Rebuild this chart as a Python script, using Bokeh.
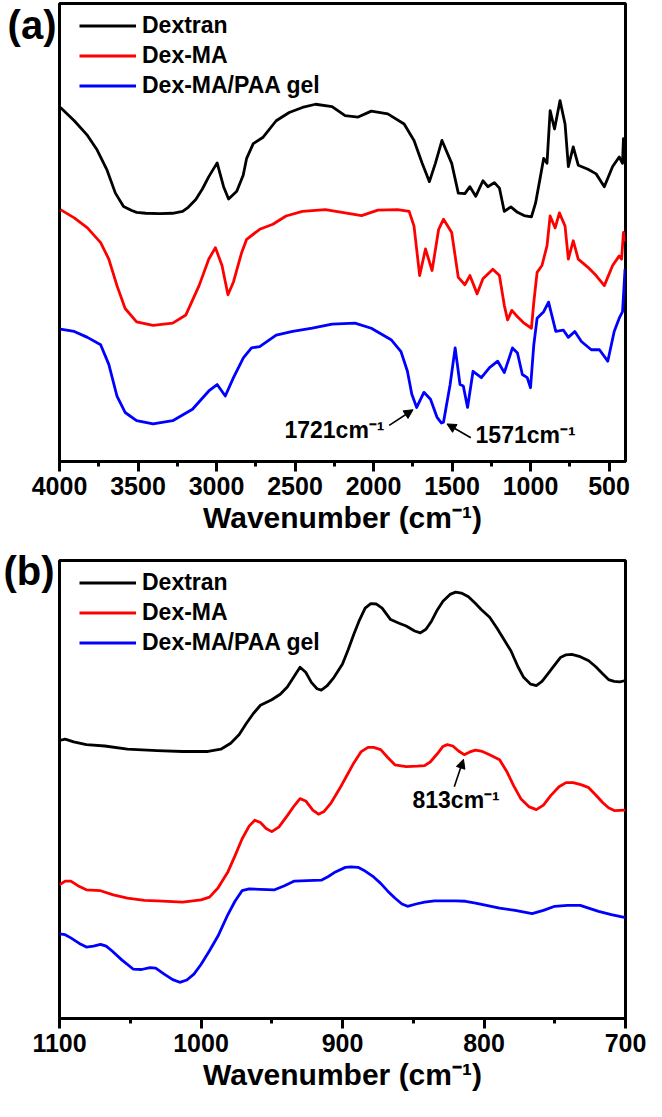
from bokeh.plotting import figure
from bokeh.layouts import column
from bokeh.models import Range1d, FixedTicker, Label, Arrow, NormalHead
from bokeh.embed import file_html
from bokeh.resources import INLINE

# ---------------- data: panel (a) ----------------
series_names = ["Dextran", "Dex-MA", "Dex-MA/PAA gel"]
series_colors = ["#000000", "#FF0000", "#0000FF"]

a_dextran_wn = [3994, 3906, 3822, 3760, 3697, 3644, 3592, 3540, 3509, 3450, 3362, 3280, 3216, 3180, 3132,
                3090, 3049, 2996, 2955, 2923, 2871, 2830, 2808, 2766, 2703, 2620, 2537, 2453, 2369, 2264,
                2181, 2098, 2014, 1909, 1805, 1742, 1690, 1644, 1606, 1564, 1502, 1460, 1418, 1386, 1349,
                1303, 1272, 1230, 1198, 1167, 1125, 1083, 1041, 994, 968, 937, 916, 895, 875, 847, 812,
                780, 759, 728, 696, 634, 582, 530, 477, 435, 414, 408, 400]
a_dextran_t = [77.3, 74.4, 71.2, 68.0, 63.6, 58.6, 55.7, 54.8, 54.4, 54.2, 54.1, 54.2, 54.6, 55.5, 57.2,
               59.5, 62.2, 65.2, 60.0, 57.3, 59.0, 62.5, 66.2, 69.4, 70.8, 74.4, 76.2, 77.3, 78.0, 77.5,
               75.5, 75.2, 76.5, 75.9, 73.7, 70.1, 65.1, 61.1, 65.1, 70.1, 65.1, 58.6, 58.5, 60.0, 57.9,
               61.3, 60.0, 60.9, 59.7, 54.6, 55.6, 54.4, 53.7, 53.4, 56.4, 62.2, 66.2, 65.1, 76.6, 72.6, 78.8,
               73.7, 64.4, 68.7, 64.7, 63.8, 62.8, 60.0, 64.4, 66.5, 65.1, 70.5, 66.0]

a_dexma_wn = [3994, 3906, 3822, 3738, 3686, 3634, 3582, 3509, 3404, 3279, 3195, 3111, 3049, 3007,
              2965, 2927, 2892, 2840, 2808, 2725, 2641, 2557, 2453, 2307, 2181, 2076, 1972, 1847,
              1773, 1742, 1706, 1669, 1627, 1585, 1554, 1502, 1460, 1418, 1386, 1340, 1303, 1240,
              1198, 1167, 1146, 1119, 1083, 1041, 994, 979, 958, 927, 895, 875, 843, 816, 780, 759,
              728, 696, 634, 582, 530, 477, 435, 420, 408, 400]
a_dexma_t = [55.0, 53.2, 51.0, 47.8, 44.2, 38.4, 33.4, 30.5, 29.7, 30.2, 32.0, 38.4, 44.2, 46.7,
             42.8, 36.4, 39.2, 45.6, 48.5, 50.7, 51.8, 53.6, 54.6, 55.0, 54.3, 53.7, 54.9, 55.0,
             54.6, 51.4, 40.6, 46.4, 41.7, 50.7, 52.9, 50.0, 40.2, 38.6, 40.6, 36.6, 39.9, 42.0,
             40.6, 34.1, 30.9, 33.0, 31.6, 30.2, 29.1, 34.8, 41.3, 42.8, 47.1, 53.6, 51.0, 54.3, 51.4, 44.2,
             48.2, 44.2, 42.4, 40.6, 38.4, 42.8, 44.9, 44.2, 50.0, 48.0]

a_gel_wn = [3994, 3906, 3822, 3738, 3686, 3634, 3582, 3509, 3404, 3279, 3153, 3049, 2996, 2944,
            2892, 2829, 2777, 2725, 2620, 2515, 2390, 2264, 2118, 2014, 1888, 1825, 1784, 1756,
            1725, 1679, 1637, 1596, 1568, 1554, 1512, 1480, 1449, 1428, 1401, 1366, 1313, 1261,
            1209, 1167, 1115, 1083, 1052, 1021, 1000, 979, 958, 916, 885, 839, 791, 759, 718, 676,
            613, 561, 508, 467, 435, 414, 404, 398]
a_gel_t = [28.9, 28.4, 27.1, 25.5, 21.2, 14.3, 10.7, 8.9, 8.2, 8.9, 11.4, 15.4, 16.8, 14.3,
           18.3, 22.6, 24.8, 25.1, 27.6, 28.4, 29.1, 30.0, 30.2, 29.1, 26.6, 24.0, 19.7, 14.7,
           11.8, 15.1, 13.6, 9.7, 8.4, 8.6, 16.8, 24.8, 16.8, 16.5, 11.8, 19.7, 18.3, 20.5,
           21.9, 19.4, 24.8, 23.7, 19.0, 18.3, 16.1, 25.5, 31.3, 32.7, 34.8, 28.4, 28.7, 27.1, 28.4, 26.2,
           24.4, 24.4, 21.9, 28.4, 31.3, 32.7, 38.4, 42.0]

a_ticks = [4000, 3500, 3000, 2500, 2000, 1500, 1000, 500]
a_minor = [3750, 3250, 2750, 2250, 1750, 1250, 750]

# ---------------- data: panel (b) ----------------
b_dextran_wn = [1100, 1096, 1090, 1081, 1068, 1052, 1031, 1013, 995, 986, 979, 973, 968, 963, 958, 950,
                944, 939, 934, 930, 926, 922, 918, 915, 911, 906, 900, 896, 892, 888, 884, 880, 876,
                872, 866, 860, 855, 849, 845, 841, 837, 833, 829, 824, 820, 816, 811, 806, 802, 796,
                791, 786, 781, 776, 772, 767, 763, 759, 755, 750, 746, 742, 738, 732, 726, 721, 716,
                712, 708, 704, 700]
b_dextran_t = [60.7, 61.0, 60.4, 59.8, 59.5, 58.8, 58.5, 58.3, 58.3, 58.8, 60.1, 62.0, 64.4, 66.6, 68.4, 69.6,
               70.8, 72.4, 74.8, 76.7, 75.6, 73.4, 72.0, 71.7, 72.6, 74.5, 77.4, 80.5, 83.9, 87.0, 89.6, 90.6, 90.5,
               89.6, 87.1, 86.3, 85.7, 84.6, 84.2, 85.0, 86.8, 89.2, 91.1, 92.6, 93.1, 92.9, 92.1, 90.6, 89.3, 87.6,
               85.3, 82.8, 80.3, 76.8, 74.5, 73.0, 72.7, 73.6, 75.2, 77.2, 78.8, 79.4, 79.5, 79.0, 78.1, 76.8, 75.2,
               74.0, 73.6, 73.5, 73.8]

b_dexma_wn = [1100, 1096, 1092, 1087, 1081, 1071, 1062, 1052, 1040, 1031, 1013, 1000, 994, 988, 984, 981,
              976, 971, 966, 962, 958, 954, 950, 945, 939, 934, 930, 926, 921, 917, 913, 908, 902, 897,
              892, 887, 882, 878, 873, 868, 863, 855, 847, 842, 838, 833, 829, 826, 822, 818, 814, 810,
              806, 802, 796, 789, 784, 779, 774, 768, 763, 758, 753, 747, 742, 737, 731, 726, 721, 716,
              712, 708, 700]
b_dexma_t = [29.2, 30.0, 30.0, 29.0, 28.1, 27.9, 27.0, 26.3, 25.8, 25.7, 25.4, 25.9, 26.5, 28.5, 30.5, 32.0,
             35.5, 39.2, 42.0, 43.3, 42.8, 41.5, 40.8, 41.8, 44.3, 46.5, 48.0, 47.5, 45.5, 44.6, 45.2, 47.1, 50.2,
             53.0, 55.8, 58.2, 59.2, 59.2, 58.7, 57.0, 55.4, 55.0, 55.1, 55.2, 56.0, 57.8, 59.4, 59.8, 59.5, 58.4,
             57.6, 58.2, 58.6, 58.4, 57.6, 56.5, 54.0, 50.8, 48.0, 46.2, 45.6, 46.6, 48.6, 50.6, 51.5, 51.5, 51.0,
             50.4, 48.8, 47.1, 46.0, 45.4, 45.5]

b_gel_wn = [1100, 1096, 1092, 1086, 1081, 1076, 1071, 1067, 1063, 1056, 1048, 1042, 1036, 1032, 1026, 1020,
            1015, 1010, 1005, 1000, 994, 988, 981, 976, 971, 966, 958, 948, 941, 934, 925, 915, 910, 905,
            898, 894, 889, 884, 878, 873, 868, 863, 858, 854, 848, 842, 835, 829, 820, 813, 806, 800, 789,
            778, 766, 758, 750, 741, 732, 725, 719, 710, 700]
b_gel_t = [18.5, 18.3, 17.6, 16.4, 15.6, 15.8, 16.2, 15.8, 14.8, 12.8, 10.8, 10.7, 11.1, 11.0, 9.7, 8.5,
           7.9, 8.4, 9.7, 11.8, 14.8, 18.0, 22.7, 25.6, 27.9, 28.3, 28.2, 28.1, 29.0, 30.0, 30.1, 30.2, 31.0, 32.0,
           33.0, 33.1, 33.0, 32.2, 30.9, 29.5, 27.8, 26.3, 25.0, 24.5, 25.0, 25.4, 25.7, 25.7, 25.7, 25.6, 25.2,
           24.8, 24.1, 23.6, 22.9, 23.6, 24.5, 24.7, 24.7, 24.0, 23.4, 22.7, 22.0]

b_ticks = [1100, 1000, 900, 800, 700]
b_minor = [1050, 950, 850, 750]

# annotations: (text, text x, text y, align, arrow start x, y, arrow end x, y)
a_notes = [("1721cm\u207b\u00b9", 1930, 6.9, "right", 1900, 7.9, 1748, 11.3),
           ("1571cm\u207b\u00b9", 1350, 5.8, "left", 1380, 5.2, 1532, 8.2)]
b_notes = [("813cm\u207b\u00b9", 819.7, 47.6, "center", 821, 50.6, 814.5, 56.6)]

# panel tags, shown beside the top of each frame
a_tag = ("(a)", 96.3)
b_tag = ("(b)", 97.6)

FONT = "Liberation Sans"


def make_panel(x_range, ticks, minor, height, border_left, border_top, border_bottom, series, notes, tag,
               tag_standoff):
    p = figure(width=646, height=height, x_range=Range1d(*x_range), y_range=Range1d(0, 100),
               output_backend="svg", toolbar_location=None,
               min_border_left=border_left, min_border_right=21,
               min_border_top=border_top, min_border_bottom=border_bottom)
    p.grid.visible = False
    p.outline_line_color = "black"
    p.outline_line_width = 3
    p.outline_line_alpha = 1
    p.background_fill_color = "white"
    p.border_fill_color = "white"

    # the left axis carries no ticks: it only holds the panel tag beside the frame
    ya = p.yaxis[0]
    ya.ticker = FixedTicker(ticks=[tag[1]], minor_ticks=[])
    ya.major_label_overrides = {tag[1]: tag[0]}
    ya.axis_line_color = None
    ya.major_tick_line_color = None
    ya.minor_tick_line_color = None
    ya.major_tick_out = 0
    ya.major_tick_in = 0
    ya.minor_tick_out = 0
    ya.major_label_standoff = tag_standoff
    ya.major_label_text_font = FONT
    ya.major_label_text_font_style = "bold"
    ya.major_label_text_font_size = "40px"
    ya.major_label_text_color = "black"

    xa = p.xaxis[0]
    xa.ticker = FixedTicker(ticks=ticks, minor_ticks=minor)
    xa.axis_line_width = 3
    xa.axis_line_color = "black"
    xa.major_tick_line_width = 3
    xa.major_tick_out = 10
    xa.major_tick_in = 0
    xa.minor_tick_line_width = 3
    xa.minor_tick_out = 5
    xa.minor_tick_in = 0
    xa.major_label_text_font = FONT
    xa.major_label_text_font_style = "bold"
    xa.major_label_text_font_size = "25px"
    xa.major_label_text_color = "black"
    xa.major_label_standoff = 5
    xa.axis_label = "Wavenumber (cm\u207b\u00b9)"
    xa.axis_label_text_font = FONT
    xa.axis_label_text_font_style = "bold"
    xa.axis_label_text_font_size = "30px"
    xa.axis_label_text_color = "black"
    xa.axis_label_standoff = 3

    for (wn, t), name, color in zip(series, series_names, series_colors):
        p.line(wn, t, line_color=color, line_width=2.8, legend_label=name, line_join="round")

    lg = p.legend[0]
    lg.location = (20, 361)
    lg.margin = 0
    lg.padding = 0
    lg.spacing = 1
    lg.glyph_width = 57
    lg.glyph_height = 29
    lg.label_height = 29
    lg.label_standoff = 6
    lg.label_text_font = FONT
    lg.label_text_font_style = "bold"
    lg.label_text_font_size = "23px"
    lg.label_text_color = "black"
    lg.background_fill_alpha = 0
    lg.border_line_alpha = 0

    for text, tx, ty, align, x0, y0, x1, y1 in notes:
        p.add_layout(Label(x=tx, y=ty, text=text, text_align=align, text_baseline="middle",
                           text_font=FONT, text_font_style="bold", text_font_size="23px",
                           text_color="black"))
        p.add_layout(Arrow(end=NormalHead(size=9, fill_color="black", line_color="black", line_width=1),
                           x_start=x0, y_start=y0, x_end=x1, y_end=y1,
                           line_color="black", line_width=1.6))
    return p


p1 = make_panel((4000, 395), a_ticks, a_minor, 544, 52, 3, 83,
                [(a_dextran_wn, a_dextran_t), (a_dexma_wn, a_dexma_t), (a_gel_wn, a_gel_t)],
                a_notes, a_tag, 3)
p2 = make_panel((1100, 700), b_ticks, b_minor, 557, 54, 16, 83,
                [(b_dextran_wn, b_dextran_t), (b_dexma_wn, b_dexma_t), (b_gel_wn, b_gel_t)],
                b_notes, b_tag, 5)

layout = column(p1, p2)
open("out.html", "w").write(file_html(layout, INLINE))
